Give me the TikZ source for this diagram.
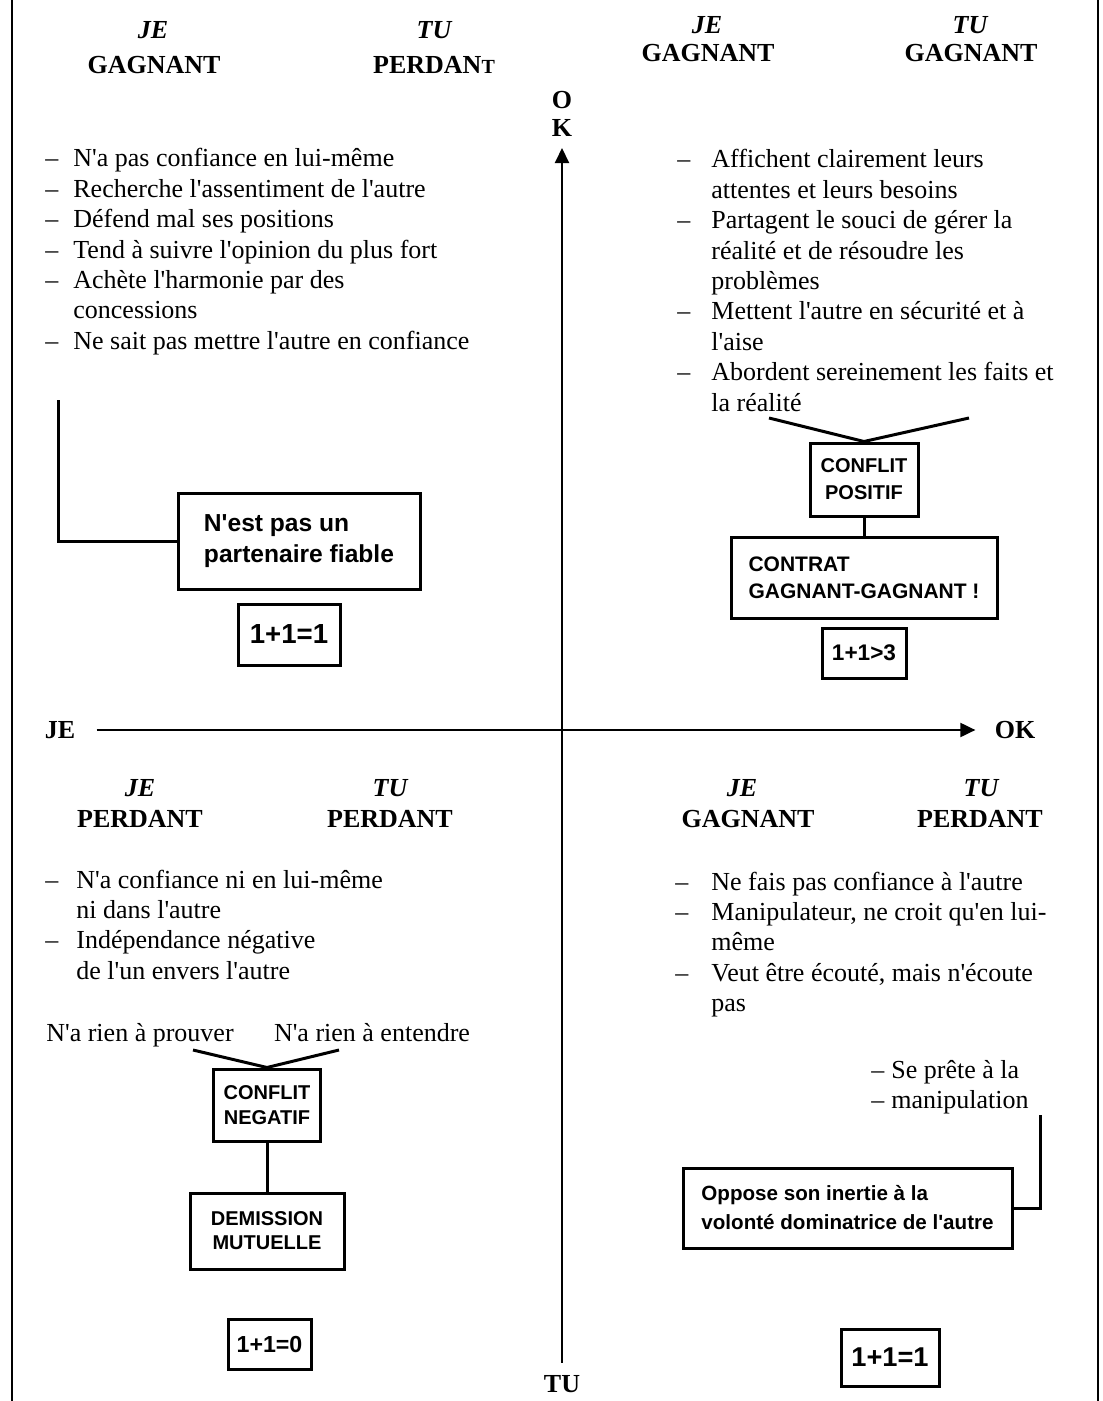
\documentclass[tikz,border=0pt]{standalone}
\usepackage{fontspec}
\setmainfont{Liberation Serif}[Ligatures=TeXOff]
\newfontfamily\boxfont{Liberation Sans}[Ligatures=TeXOff]
\usetikzlibrary{arrows.meta}

\newcommand{\bodyfont}{\fontsize{13}{15.2}\selectfont}

\tikzset{
  role/.style={font=\fontsize{13}{15}\selectfont\bfseries\itshape, inner sep=0pt},
  hdstate/.style={font=\fontsize{13}{15}\selectfont\bfseries, inner sep=0pt},
  axlabel/.style={font=\fontsize{13}{14}\selectfont\bfseries, inner sep=0pt},
  itemlist/.style={anchor=base west, inner sep=0pt, font=\bodyfont},
  plain/.style={anchor=base, inner sep=0pt, font=\bodyfont},
  cbox/.style={draw, line width=1.5pt, inner sep=0pt, align=center},
  eqbox/.style={draw, line width=1.5pt, inner sep=0pt},
  link/.style={line width=1.5pt},
  axis/.style={line width=1pt, -{Triangle[length=7.5pt,width=7pt]}},
  frame/.style={line width=1.3pt}
}

\begin{document}
\begin{tikzpicture}[x=0.5pt,y=-0.5pt]

    \useasboundingbox (0,0) rectangle (1102,1401);

    % side rules
    \draw[frame] (12,0) -- (12,1401);
    \draw[frame] (1098,0) -- (1098,1401);

    % Axes
    \node[axlabel, align=center] (ok-top) at (562,114) {O\\K};
    \node[axlabel] (tu-bottom) at (562,1384) {TU};
    \node[axlabel] (je-left) at (60,730) {JE};
    \node[axlabel] (ok-right) at (1015,730) {OK};
    \draw[axis, shorten <=6pt, shorten >=5.5pt] (tu-bottom) -- (ok-top);
    \draw[axis, shorten <=10.5pt, shorten >=9.5pt] (je-left) -- (ok-right);

    % Je gagnant / tu perdant (top left)
    \node[role] (tl-je) at (153,30) {JE};
    \node[hdstate] (tl-gag) at (154,65) {GAGNANT};
    \node[role] (tl-tu) at (434,30) {TU};
    \node[hdstate] (tl-per) at (434,65) {PERDAN{\fontsize{10}{10}\selectfont T}};
    \node[itemlist] (tl-list) at (45,167) {\begin{tabular}[t]{@{}p{14pt}@{}l@{}}
      – & N'a pas confiance en lui-même\\
      – & Recherche l'assentiment de l'autre\\
      – & Défend mal ses positions\\
      – & Tend à suivre l'opinion du plus fort\\
      – & Achète l'harmonie par des\\
        & concessions\\
      – & Ne sait pas mettre l'autre en confiance
    \end{tabular}};
    \coordinate (tl-tail) at (58,400);
    \node[cbox, minimum width=121pt, minimum height=48pt,
      font=\boxfont\bfseries\fontsize{12.3}{15.5}\selectfont, align=left] (tl-box) at (299,541)
      {N'est pas un\\partenaire fiable};
    \draw[link] (tl-tail) |- (tl-box.west);
    \node[eqbox, minimum width=51pt, minimum height=30.5pt,
      font=\boxfont\bfseries\fontsize{13.8}{15}\selectfont] (tl-eq) at (289,634.5) {1+1=1};

    % Je gagnant / tu gagnant (top right)
    \node[role] (tr-je) at (707,25) {JE};
    \node[hdstate] (tr-gag) at (708,53) {GAGNANT};
    \node[role] (tr-tu) at (970,25) {TU};
    \node[hdstate] (tr-gag2) at (971,53) {GAGNANT};
    \node[itemlist] (tr-list) at (677,168) {\begin{tabular}[t]{@{}p{17pt}@{}l@{}}
      – & Affichent clairement leurs\\
        & attentes et leurs besoins\\
      – & Partagent le souci de gérer la\\
        & réalité et de résoudre les\\
        & problèmes\\
      – & Mettent l'autre en sécurité et à\\
        & l'aise\\
      – & Abordent sereinement les faits et\\
        & la réalité
    \end{tabular}};
    \coordinate (tr-left) at (769,418);
    \coordinate (tr-right) at (969,418);
    \node[cbox, minimum width=54pt, minimum height=36.5pt,
      font=\boxfont\bfseries\fontsize{10}{13.5}\selectfont] (tr-conflit) at (864,479.5)
      {CONFLIT\\POSITIF};
    \draw[link] (tr-left) -- (tr-conflit.north) -- (tr-right);
    \node[cbox, minimum width=133pt, minimum height=40.5pt, align=left,
      font=\boxfont\bfseries\fontsize{10.5}{13.5}\selectfont] (tr-contrat) at (864,577.5)
      {CONTRAT\\GAGNANT-GAGNANT !};
    \draw[link] (tr-conflit) -- (tr-contrat);
    \node[eqbox, minimum width=42pt, minimum height=25pt,
      font=\boxfont\bfseries\fontsize{11.3}{13}\selectfont] (tr-eq) at (864,653) {1+1>3};

    % Je perdant / tu perdant (bottom left)
    \node[role] (bl-je) at (140,788) {JE};
    \node[hdstate] (bl-per) at (140,819) {PERDANT};
    \node[role] (bl-tu) at (390,788) {TU};
    \node[hdstate] (bl-per2) at (390,819) {PERDANT};
    \node[itemlist] (bl-list) at (45,888) {\begin{tabular}[t]{@{}p{15.5pt}@{}l@{}}
      – & N'a confiance ni en lui-même\\
        & ni dans l'autre\\
      – & Indépendance négative\\
        & de l'un envers l'autre
    \end{tabular}};
    \node[plain] (bl-prouver) at (140,1041) {N'a rien à prouver};
    \node[plain] (bl-entendre) at (372,1041) {N'a rien à entendre};
    \coordinate (bl-left) at (193,1050);
    \coordinate (bl-right) at (339,1050);
    \node[cbox, minimum width=53.5pt, minimum height=36pt,
      font=\boxfont\bfseries\fontsize{10}{12.5}\selectfont] (bl-conflit) at (267,1105)
      {CONFLIT\\NEGATIF};
    \draw[link] (bl-left) -- (bl-conflit.north) -- (bl-right);
    \node[cbox, minimum width=77pt, minimum height=38pt,
      font=\boxfont\bfseries\fontsize{10}{12}\selectfont] (bl-demission) at (267,1231)
      {DEMISSION\\MUTUELLE};
    \draw[link] (bl-conflit) -- (bl-demission);
    \node[eqbox, minimum width=41.5pt, minimum height=25pt,
      font=\boxfont\bfseries\fontsize{11.6}{13}\selectfont] (bl-eq) at (269.5,1344) {1+1=0};

    % Je gagnant / tu perdant (bottom right)
    \node[role] (br-je) at (742,788) {JE};
    \node[hdstate] (br-gag) at (748,819) {GAGNANT};
    \node[role] (br-tu) at (981,788) {TU};
    \node[hdstate] (br-per) at (980,819) {PERDANT};
    \node[itemlist] (br-list) at (675,890) {\begin{tabular}[t]{@{}p{18pt}@{}l@{}}
      – & Ne fais pas confiance à l'autre\\
      – & Manipulateur, ne croit qu'en lui-\\
        & même\\
      – & Veut être écouté, mais n'écoute\\
        & pas
    \end{tabular}};
    \node[itemlist] (br-list2) at (871,1078) {\begin{tabular}[t]{@{}p{10pt}@{}l@{}}
      – & Se prête à la\\
      – & manipulation
    \end{tabular}};
    \coordinate (br-tail) at (1040,1115);
    \node[cbox, minimum width=164.5pt, minimum height=40pt, align=left,
      font=\boxfont\bfseries\fontsize{10.3}{14.5}\selectfont] (br-box) at (847.5,1208)
      {Oppose son inertie à la\\volonté dominatrice de l'autre};
    \draw[link] (br-tail) |- (br-box.east);
    \node[eqbox, minimum width=49pt, minimum height=28.5pt,
      font=\boxfont\bfseries\fontsize{13.6}{15}\selectfont] (br-eq) at (890,1357.5) {1+1=1};

\end{tikzpicture}
\end{document}
